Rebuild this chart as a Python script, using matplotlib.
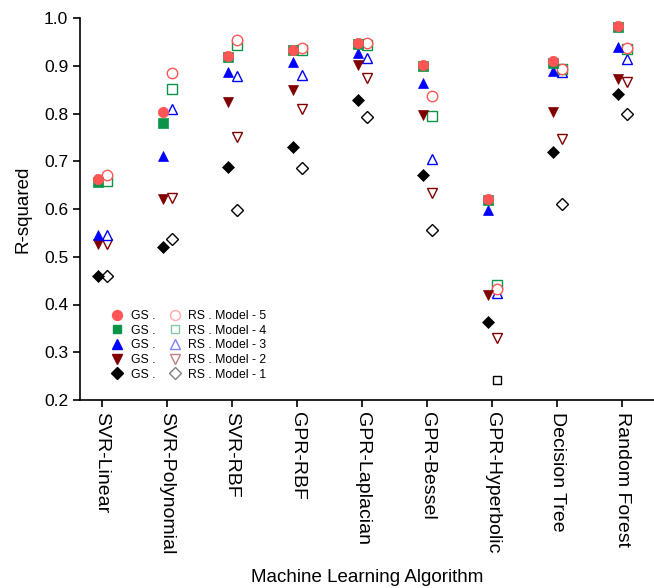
import matplotlib
matplotlib.use("Agg")
import matplotlib.pyplot as plt
from matplotlib.lines import Line2D
import numpy as np

plt.rcParams['font.family'] = ['Liberation Sans', 'DejaVu Sans']

algorithms = ["SVR-Linear", "SVR-Polynomial", "SVR-RBF", "GPR-RBF", "GPR-Laplacian",
              "GPR-Bessel", "GPR-Hyperbolic", "Decision Tree", "Random Forest"]

gs_model5 = [0.662, 0.803, 0.921, 0.932, 0.947, 0.901, 0.621, 0.909, 0.983]
gs_model4 = [0.657, 0.780, 0.918, 0.932, 0.945, 0.900, 0.619, 0.905, 0.981]
gs_model3 = [0.546, 0.711, 0.886, 0.907, 0.926, 0.864, 0.597, 0.888, 0.940]
gs_model2 = [0.527, 0.620, 0.825, 0.849, 0.902, 0.796, 0.420, 0.804, 0.873]
gs_model1 = [0.460, 0.520, 0.688, 0.729, 0.829, 0.671, 0.364, 0.719, 0.841]

rs_model5 = [0.671, 0.885, 0.953, 0.937, 0.947, 0.837, 0.433, 0.894, 0.937]
rs_model4 = [0.658, 0.851, 0.944, 0.933, 0.944, 0.794, 0.440, 0.893, 0.935]
rs_model3 = [0.545, 0.810, 0.878, 0.881, 0.917, 0.704, 0.424, 0.886, 0.915]
rs_model2 = [0.526, 0.622, 0.751, 0.810, 0.874, 0.633, 0.329, 0.746, 0.866]
rs_model1 = [0.460, 0.537, 0.597, 0.686, 0.793, 0.555, 0.241, 0.610, 0.799]
rs_model1_markers = ['D', 'D', 'D', 'D', 'D', 'D', 's', 'D', 'D']

colors = {5: '#FF5555', 4: '#0A9448', 3: '#0000FF', 2: '#800000', 1: '#000000'}
markers = {5: 'o', 4: 's', 3: '^', 2: 'v', 1: 'D'}
msize = {5: 7.5, 4: 6.5, 3: 7.5, 2: 7.5, 1: 6.5}

gs = {5: gs_model5, 4: gs_model4, 3: gs_model3, 2: gs_model2, 1: gs_model1}
rs = {5: rs_model5, 4: rs_model4, 3: rs_model3, 2: rs_model2, 1: rs_model1}

fig = plt.figure(figsize=(6.54, 5.88), dpi=100)
ax = fig.add_axes([80/654, 1-400/588, 1-80/654, (400-18)/588])

x = np.arange(len(algorithms))
off = 0.07

# RS (open) drawn first, then GS filled on top
for m in [1, 2, 3, 4, 5]:
    if m == 1:
        for xi, v, mk in zip(x, rs[m], rs_model1_markers):
            ax.plot([xi + off], [v], linestyle='none', marker=mk,
                    ms=(6.5 if mk == 'D' else 6), mfc='white', mec=colors[m], mew=1.0)
    else:
        ax.plot(x + off, rs[m], linestyle='none', marker=markers[m], ms=msize[m],
                mfc='white', mec=colors[m], mew=1.0)
for m in [1, 2, 3, 4, 5]:
    ax.plot(x - off, gs[m], linestyle='none', marker=markers[m], ms=msize[m],
            mfc=colors[m], mec=colors[m], mew=0.5)

ax.set_xlim(-0.34, 8.49)
ax.set_ylim(0.2, 1.0)
ax.set_yticks(np.arange(0.2, 1.01, 0.1))
ax.set_yticklabels([f"{v:.1f}" for v in np.arange(0.2, 1.01, 0.1)], fontsize=12.5)
ax.set_xticks(x)
ax.set_xticklabels(algorithms, rotation=270, fontsize=14, va='top', ha='center')
ax.tick_params(direction='out', length=5, width=1.2)
ax.spines['top'].set_visible(False)
ax.spines['right'].set_visible(False)
ax.spines['left'].set_linewidth(1.2)
ax.spines['bottom'].set_linewidth(1.2)

ax.set_ylabel("R-squared", fontsize=13.5, labelpad=9)
ax.set_xlabel("Machine Learning Algorithm", fontsize=13.5, labelpad=11)

handles = []
labels = []
for m in [5, 4, 3, 2, 1]:
    handles.append(Line2D([], [], linestyle='none', marker=markers[m], ms=msize[m] * 0.95,
                          mfc=colors[m], mec=colors[m]))
    labels.append("GS .")
for m in [5, 4, 3, 2, 1]:
    handles.append(Line2D([], [], linestyle='none', marker=markers[m], ms=msize[m] * 0.95,
                          mfc='white', mec=colors[m], alpha=0.5, mew=1.0))
    labels.append(f"RS . Model - {m}")
ax.legend(handles, labels, ncol=2, frameon=False, loc='upper left',
          bbox_to_anchor=(0.037, 0.258), fontsize=8.8, handlelength=1.2,
          handletextpad=0.5, columnspacing=1.0, labelspacing=0.22, borderpad=0.2)

fig.savefig("out.png", dpi=100)
